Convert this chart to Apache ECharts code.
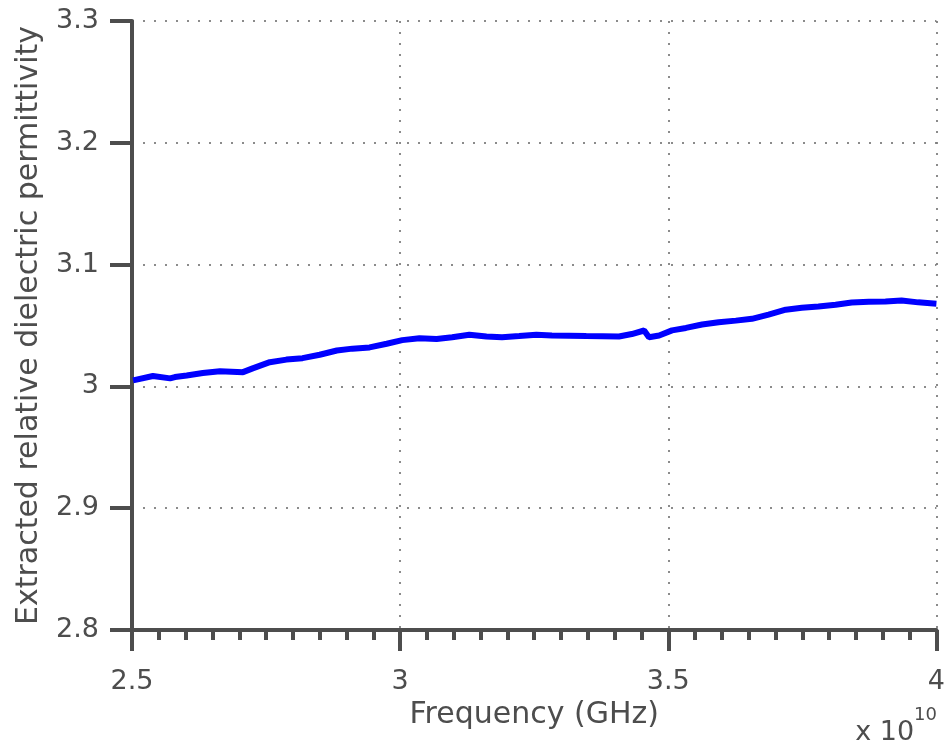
<!DOCTYPE html>
<html><head><meta charset="utf-8">
<script src="https://cdn.jsdelivr.net/npm/echarts@6/dist/echarts.min.js"></script>
<style>html,body{margin:0;padding:0;background:#fff}#c{width:948px;height:747px}</style>
</head><body><div id="c"></div>
<script>
// frequency in units of 1e10 Hz
const freq = [2.502,2.539,2.571,2.580,2.602,2.632,2.664,2.707,2.725,2.757,2.788,2.818,2.850,2.882,2.911,2.943,2.975,3.004,3.036,3.068,3.097,3.129,3.161,3.190,3.222,3.254,3.283,3.347,3.408,3.432,3.455,3.464,3.483,3.507,3.533,3.563,3.594,3.626,3.656,3.687,3.719,3.749,3.780,3.812,3.842,3.874,3.905,3.935,3.966,4.000];
const permittivity = [3.005,3.0085,3.0066,3.0077,3.009,3.011,3.0125,3.0117,3.0148,3.0199,3.022,3.0232,3.026,3.0295,3.031,3.032,3.035,3.038,3.0396,3.039,3.0404,3.0424,3.041,3.0404,3.0413,3.0424,3.0418,3.0413,3.041,3.043,3.0459,3.0404,3.0418,3.046,3.048,3.0508,3.0527,3.054,3.0555,3.059,3.063,3.0645,3.0656,3.067,3.0689,3.0694,3.0697,3.0705,3.069,3.0678];
const xTicks = [2.5, 3, 3.5, 4];
const yTicks = [2.8, 2.9, 3.0, 3.1, 3.2, 3.3];
const xName = 'Frequency (GHz)';
const yName = 'Extracted relative dielectric permittivity';

const FONT = 'DejaVu Sans';
const AX = '#4d4d4d';
const chart = echarts.init(document.getElementById('c'));
chart.setOption({
  animation: false,
  grid: {left: 132, right: 10, top: 21, bottom: 117},
  xAxis: {
    type: 'value', min: xTicks[0], max: xTicks[xTicks.length-1], interval: 0.5,
    name: xName, nameLocation: 'middle', nameGap: 70,
    nameTextStyle: {fontFamily: FONT, fontSize: 30, color: AX},
    axisLine: {onZero: false, lineStyle: {color: AX, width: 4}},
    axisTick: {show: true, inside: false, length: 21, lineStyle: {color: AX, width: 4}},
    minorTick: {show: true, splitNumber: 10, length: 10, lineStyle: {color: AX, width: 4}},
    axisLabel: {fontFamily: FONT, fontSize: 27, color: AX, margin: 38,
      formatter: v => String(v)},
    splitLine: {show: true, lineStyle: {color: '#666', width: 1.5, type: [2, 9]}}
  },
  yAxis: {
    type: 'value', min: yTicks[0], max: yTicks[yTicks.length-1], interval: 0.1,
    name: yName, nameLocation: 'middle', nameGap: 88,
    nameTextStyle: {fontFamily: FONT, fontSize: 30, color: AX},
    axisLine: {show: true, onZero: false, lineStyle: {color: AX, width: 4}},
    axisTick: {show: true, inside: false, length: 22, lineStyle: {color: AX, width: 4}},
    axisLabel: {fontFamily: FONT, fontSize: 27, color: AX, margin: 33,
      formatter: v => String(+v.toFixed(1))},
    splitLine: {show: true, lineStyle: {color: '#666', width: 1.5, type: [2, 9]}}
  },
  graphic: [{
    type: 'text', right: 11, bottom: 1,
    style: {
      text: '{a|x 10}{b|10}',
      rich: {
        a: {fontFamily: FONT, fontSize: 27, fill: AX, verticalAlign: 'bottom'},
        b: {fontFamily: FONT, fontSize: 18, fill: AX, verticalAlign: 'top', padding: [0,0,22,0]}
      }
    }
  }],
  series: [{
    type: 'line', data: freq.map((f, i) => [f, permittivity[i]]),
    showSymbol: false, smooth: false,
    lineStyle: {color: '#0000ff', width: 6}
  }]
});
</script></body></html>
